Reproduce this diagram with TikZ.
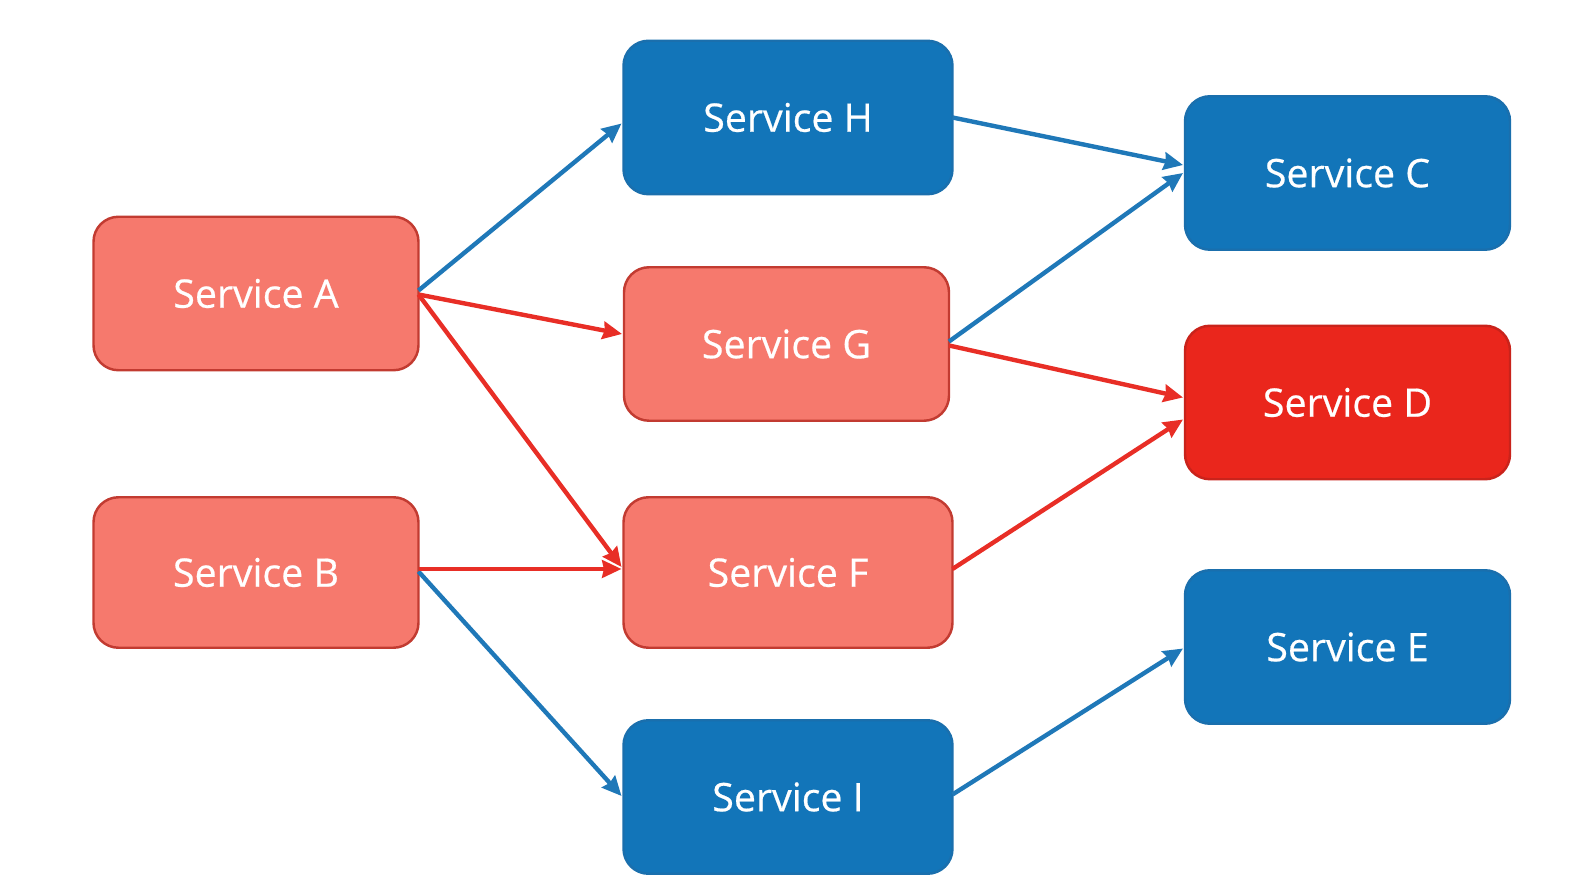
\documentclass[tikz,border=0pt]{standalone}
\usepackage{fontspec}
\setmainfont[FakeBold=0.5]{Open Sans}
\usetikzlibrary{arrows.meta}
\definecolor{svcblue}{HTML}{1275B9}
\definecolor{svcblueline}{HTML}{1A6FAD}
\definecolor{svcpink}{HTML}{F6796D}
\definecolor{svcpinkline}{HTML}{C23B31}
\definecolor{svcred}{HTML}{EA261C}
\definecolor{svcredline}{HTML}{C9231B}
\definecolor{arrowblue}{HTML}{1F78B8}
\definecolor{arrowred}{HTML}{E82E26}
\tikzset{
	servicebox/.style={rectangle,rounded corners=0.25cm,line width=0.7pt,text=white,outer sep=0pt,
		minimum width=3.25cm,minimum height=1.535cm,font=\fontsize{11.2}{14}\selectfont},
	bluebox/.style={servicebox,fill=svcblue,draw=svcblueline},
	pinkbox/.style={servicebox,fill=svcpink,draw=svcpinkline},
	redbox/.style={servicebox,fill=svcred,draw=svcredline},
	bluearrow/.style={-{Stealth[length=5.5pt,width=5pt,inset=0.5pt]},line width=1.25pt,arrowblue},
	redarrow/.style={-{Stealth[length=5.5pt,width=5pt,inset=0.5pt]},line width=1.25pt,arrowred}
}
\begin{document}
\begin{tikzpicture}
	\useasboundingbox (0,0) rectangle (15.96,-8.93);

	\begin{scope}[every node/.style={pinkbox}]
		\node (ServiceA) at (2.56,-2.935) {Service A};
		\node[minimum height=1.505cm] (ServiceB) at (2.56,-5.725) {Service B};
		\node (ServiceG) at (7.865,-3.44) {Service G};
		\node[minimum width=3.29cm,minimum height=1.505cm] (ServiceF) at (7.88,-5.725) {Service F};
	\end{scope}
	\begin{scope}[every node/.style={bluebox}]
		\node[minimum width=3.29cm] (ServiceH) at (7.88,-1.175) {Service H};
		\node[minimum width=3.29cm] (ServiceI) at (7.88,-7.97) {Service I};
		\node (ServiceC) at (13.475,-1.73) {Service C};
		\node (ServiceE) at (13.475,-6.47) {Service E};
	\end{scope}
	\node[redbox] (ServiceD) at (13.475,-4.025) {Service D};

	\draw[bluearrow] ([yshift=0.03cm]ServiceA.east) -- ([yshift=-0.06cm,xshift=-0.02cm]ServiceH.west);
	\draw[bluearrow] ([yshift=0.01cm]ServiceB.east) -- ([xshift=-0.02cm,yshift=0.01cm]ServiceI.west);
	\draw[bluearrow] (ServiceH.east) -- ([yshift=0.08cm,xshift=-0.02cm]ServiceC.west);
	\draw[bluearrow] ([yshift=0.025cm]ServiceG.east) -- ([xshift=-0.02cm]ServiceC.west);
	\draw[bluearrow] ([yshift=0.025cm]ServiceI.east) -- ([yshift=-0.015cm,xshift=-0.02cm]ServiceE.west);

	\draw[redarrow] ([yshift=-0.01cm]ServiceA.east) -- ([yshift=0.1cm,xshift=-0.02cm]ServiceG.west);
	\draw[redarrow] ([yshift=-0.01cm]ServiceA.east) -- ([yshift=0.055cm,xshift=-0.02cm]ServiceF.west);
	\draw[redarrow] ([yshift=0.035cm]ServiceB.east) -- ([yshift=0.035cm,xshift=-0.02cm]ServiceF.west);
	\draw[redarrow] ([yshift=-0.015cm]ServiceG.east) -- ([yshift=0.05cm,xshift=-0.02cm]ServiceD.west);
	\draw[redarrow] ([yshift=0.035cm]ServiceF.east) -- ([yshift=-0.17cm,xshift=-0.02cm]ServiceD.west);
\end{tikzpicture}
\end{document}
